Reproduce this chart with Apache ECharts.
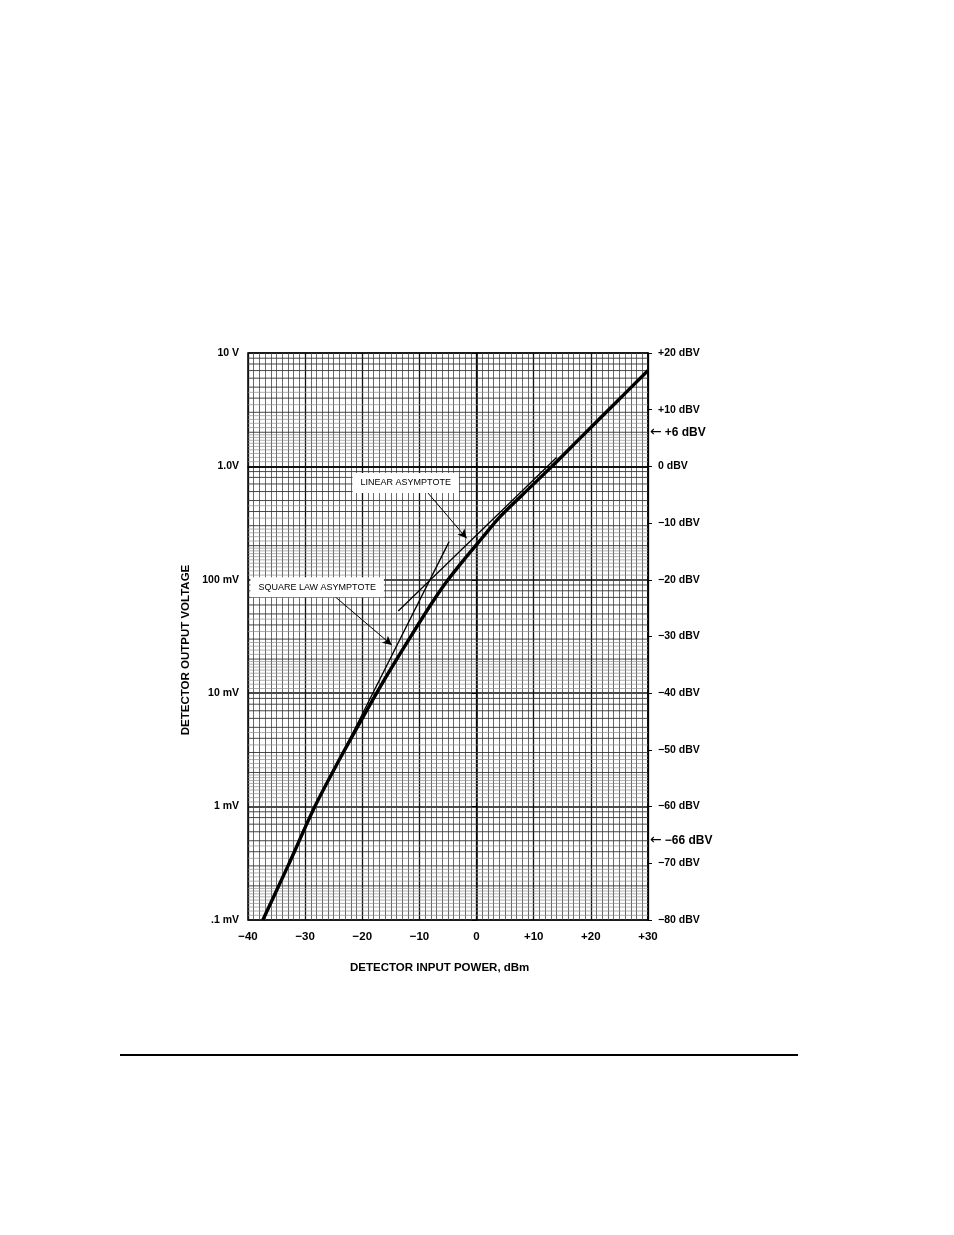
<!DOCTYPE html>
<html><head><meta charset="utf-8">
<script src="https://cdn.jsdelivr.net/npm/echarts@6/dist/echarts.min.js"></script>
<style>html,body{margin:0;padding:0;background:#fff}#c{width:954px;height:1235px}</style>
</head><body><div id="c"></div>
<script>
// ---- data ----
const powerDbm = [-37.4, -33, -28.3, -24, -20, -16, -13, -10, -7.5, -5, -2, 1, 4, 8, 13, 18, 24, 30];
const outputV  = [0.0001, 0.00030, 0.001, 0.0026, 0.0060, 0.0135, 0.024, 0.042, 0.066, 0.10, 0.155, 0.235, 0.355, 0.56, 0.98, 1.75, 3.5, 7.0];
const linAsymDbm = [-13.7, 14];
const linAsymV   = [0.053, 1.2];
const sqAsymDbm  = [-24, -4.8];
const sqAsymV    = [0.0026, 0.217];
const xTickValues = [-40, -30, -20, -10, 0, 10, 20, 30];
const leftTickLabels = ['.1 mV', '1 mV', '10 mV', '100 mV', '1.0V', '10 V'];
const decadeStarts = [0.0001, 0.001, 0.01, 0.1, 1];
const logPaperMinor = [1.1, 1.2, 1.3, 1.4, 1.5, 1.6, 1.7, 1.8, 1.9, 2.2, 2.4, 2.6, 2.8, 3.5, 4.5];
const logPaperMajor = [2, 3, 4, 5, 6, 7, 8, 9];
const extraDbvMarks = [6, -66];

const TICKFONT = "'Liberation Sans',Arial,sans-serif";
const minus = '\u2212';

function fmtX(v) {
  if (v > 0) return '+' + v;
  if (v < 0) return minus + (-v);
  return '0';
}
function fmtDbv(v) {
  if (v > 0) return '+' + v + ' dBV';
  if (v < 0) return minus + (-v) + ' dBV';
  return '0 dBV';
}

// log-paper horizontal rulings, drawn as plain two-point series on the log axis
const gridSeries = [];
decadeStarts.forEach(d => {
  logPaperMinor.forEach(m => gridSeries.push({
    type: 'line', silent: true, z: 1, symbol: 'none', yAxisIndex: 0,
    lineStyle: {color: '#8c8c8c', width: 0.7}, data: [[-40, d * m], [30, d * m]]
  }));
  logPaperMajor.forEach(m => gridSeries.push({
    type: 'line', silent: true, z: 1, symbol: 'none', yAxisIndex: 0,
    lineStyle: {color: '#333', width: 0.9}, data: [[-40, d * m], [30, d * m]]
  }));
});

const chart = echarts.init(document.getElementById('c'), null, {renderer: 'canvas'});
chart.setOption({
  animation: false,
  backgroundColor: '#fff',
  grid: {left: 248, right: 306, top: 353, bottom: 315, show: true, borderColor: '#000', borderWidth: 1.5},
  xAxis: {
    type: 'value', min: -40, max: 30, interval: 10,
    axisLine: {show: true, lineStyle: {color: '#000', width: 1.5}},
    axisTick: {show: false},
    axisLabel: {margin: 11, color: '#000', fontFamily: TICKFONT, fontWeight: 'bold', fontSize: 11.5,
      formatter: v => xTickValues.indexOf(v) >= 0 ? fmtX(v) : ''},
    splitLine: {show: true, lineStyle: {color: '#111', width: 1.3}},
    minorTick: {show: false, splitNumber: 10},
    minorSplitLine: {show: true, lineStyle: {color: '#444', width: 0.8}}
  },
  yAxis: [{
    type: 'log', logBase: 10, min: 0.0001, max: 10,
    axisLine: {show: true, lineStyle: {color: '#000', width: 1.5}},
    axisTick: {show: true, length: 5, lineStyle: {color: '#000', width: 1}},
    axisLabel: {margin: 9, color: '#000', fontFamily: TICKFONT, fontWeight: 'bold', fontSize: 10.5,
      formatter: v => { const i = Math.round(Math.log10(v)) + 4; return leftTickLabels[i] || ''; }},
    splitLine: {show: true, lineStyle: {color: '#111', width: 1.6}}
  }, {
    type: 'value', min: -80, max: 20, interval: 10, position: 'right',
    axisLine: {show: true, lineStyle: {color: '#000', width: 1.5}},
    axisTick: {show: true, length: 4, lineStyle: {color: '#000', width: 1}},
    axisLabel: {margin: 10, color: '#000', fontFamily: TICKFONT, fontWeight: 'bold', fontSize: 10.5, formatter: fmtDbv},
    splitLine: {show: false}
  }],
  series: gridSeries.concat([
    { // detector characteristic
      name: 'Detector', type: 'line', yAxisIndex: 0, z: 5, smooth: 0.3, symbol: 'none',
      lineStyle: {color: '#000', width: 3.4},
      data: powerDbm.map((p, i) => [p, outputV[i]]),
      markLine: {
        silent: true, symbol: ['none', 'arrow'], symbolSize: [7, 9],
        label: {show: false},
        lineStyle: {color: '#000', width: 1, type: 'solid'},
        data: [
          [{coord: [-8.5, 0.582]}, {coord: [-1.73, 0.232]}],
          [{coord: [-25.1, 0.0734]}, {coord: [-14.85, 0.0266]}]
        ]
      },
      markPoint: {
        silent: true, symbol: 'rect', symbolSize: 0,
        label: {show: true, color: '#000', fontFamily: TICKFONT, fontSize: 9,
          backgroundColor: '#fff', padding: [6, 8, 5, 8]},
        data: [
          {coord: [-12.4, 0.714], label: {formatter: 'LINEAR ASYMPTOTE'}},
          {coord: [-27.9, 0.086], label: {formatter: 'SQUARE LAW ASYMPTOTE'}}
        ]
      }
    },
    { // linear asymptote
      name: 'Linear asymptote', type: 'line', yAxisIndex: 0, z: 4, symbol: 'none',
      lineStyle: {color: '#000', width: 1.3},
      data: linAsymDbm.map((p, i) => [p, linAsymV[i]])
    },
    { // square law asymptote
      name: 'Square law asymptote', type: 'line', yAxisIndex: 0, z: 4, symbol: 'none',
      lineStyle: {color: '#000', width: 1.3},
      data: sqAsymDbm.map((p, i) => [p, sqAsymV[i]])
    },
    { // extra dBV marks on the right
      type: 'line', data: [], yAxisIndex: 1, z: 6, silent: true,
      markPoint: {
        silent: true, symbol: 'rect', symbolSize: 0,
        label: {show: true, position: 'right', distance: 2, color: '#000',
          rich: {
            arr: {fontFamily: "'DejaVu Sans',sans-serif", fontSize: 14, color: '#000', padding: [0, 3, 0, 0]},
            t: {fontFamily: TICKFONT, fontWeight: 'bold', fontSize: 12, color: '#000'}
          }},
        data: extraDbvMarks.map(v => ({coord: [30, v], label: {formatter: '{arr|\u2190}{t|' + fmtDbv(v) + '}'}}))
      }
    }
  ]),
  graphic: [
    {type: 'text', left: 350, top: 962, style: {text: 'DETECTOR INPUT POWER, dBm', fill: '#000',
      font: "bold 11.5px 'Liberation Sans',Arial,sans-serif"}},
    {type: 'text', x: 186, y: 650, rotation: Math.PI / 2, style: {text: 'DETECTOR OUTPUT VOLTAGE', fill: '#000',
      font: "bold 11.5px 'Liberation Sans',Arial,sans-serif", align: 'center', verticalAlign: 'middle'}},
    {type: 'line', shape: {x1: 120, y1: 1055, x2: 798, y2: 1055}, style: {stroke: '#000', lineWidth: 2}}
  ]
});
</script>
</body></html>
